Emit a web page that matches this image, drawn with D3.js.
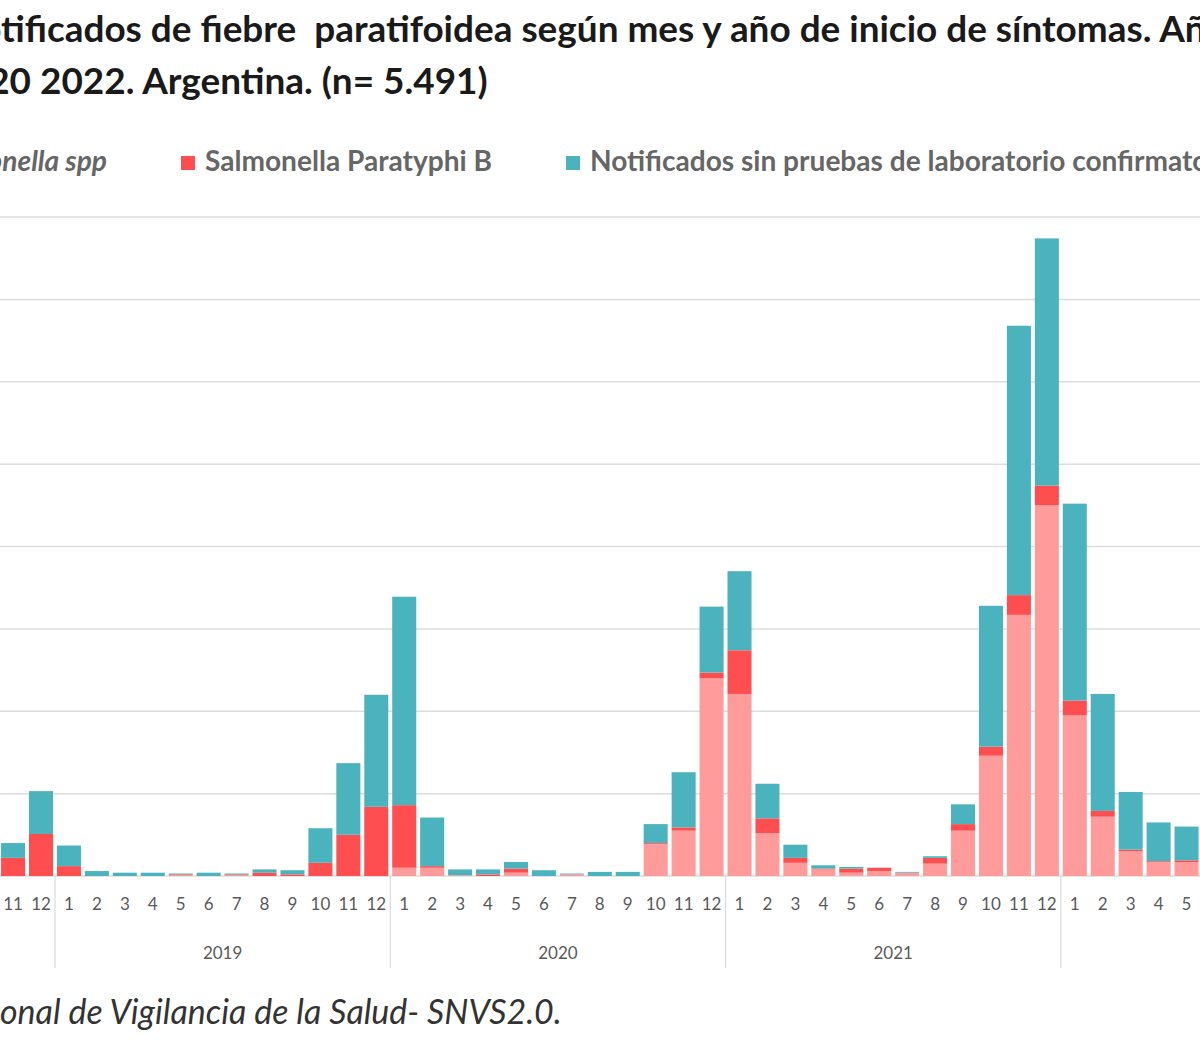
<!DOCTYPE html>
<html><head><meta charset="utf-8">
<script src="https://cdn.jsdelivr.net/npm/d3@7"></script>
<style>body{margin:0;background:#fff} svg{display:block} text{white-space:pre}</style>
</head><body><svg id="c" width="1200" height="1050"></svg>
<script>
// ---------- DATA ----------
const periods = [
 "2018-11","2018-12",
 "2019-01","2019-02","2019-03","2019-04","2019-05","2019-06","2019-07","2019-08","2019-09","2019-10","2019-11","2019-12",
 "2020-01","2020-02","2020-03","2020-04","2020-05","2020-06","2020-07","2020-08","2020-09","2020-10","2020-11","2020-12",
 "2021-01","2021-02","2021-03","2021-04","2021-05","2021-06","2021-07","2021-08","2021-09","2021-10","2021-11","2021-12",
 "2022-01","2022-02","2022-03","2022-04","2022-05","2022-06"
];
const salmonellaSpp = [
 0,0,
 0,0,0,0,1,0,1,0,0,0,0,0,
 10,10,1,0,4,0,2,0,0,39,55,240,
 221,52,16,8,4,6,4,15,55,146,317,450,
 195,72,30,17,17,15
];
const paratyphiB = [
 22,51,
 12,0,0,0,1,0,1,4,2,16,50,84,
 76,2,0,2,5,0,0,0,0,1,4,7,
 53,18,6,1,5,4,0,7,8,11,24,24,
 18,7,2,1,2,1
];
const sinLaboratorio = [
 18,52,
 25,6,4,4,1,4,1,4,5,42,87,136,
 253,59,7,6,8,7,1,5,5,23,67,80,
 96,42,16,4,2,0,1,2,24,171,327,300,
 239,142,70,47,41,6
];
const seriesKeys = ["spp","pb","sin"];
const seriesNames = ["Salmonella spp","Salmonella Paratyphi B","Notificados sin pruebas de laboratorio confirmatorias"];
const seriesColors = ["#ff9b9b","#fe4e50","#4bb3bd"];
const yTicks = [0,100,200,300,400,500,600,700,800];
const yearLabels = ["2019","2020","2021"];
const titleLine1 = "Gráfico 1. Casos notificados de fiebre  paratifoidea según mes y año de inicio de síntomas. Años 2018 a";
const titleLine2 = "SE 20 2022. Argentina. (n= 5.491)";
const sourceText = "Fuente: Sistema Nacional de Vigilancia de la Salud- SNVS2.0.";

// ---------- CHART ----------
const svg = d3.select("#c");
const FONT = "Lato, 'Open Sans', sans-serif";
const step = 27.94, x0 = -0.9;
const x = d3.scaleBand().domain(periods)
  .range([x0, x0 + step*periods.length]).paddingInner(0.14).paddingOuter(0.07);
const y = d3.scaleLinear().domain([0,800]).range([876,217]);

const rows = periods.map((p,i)=>({p, spp:salmonellaSpp[i], pb:paratyphiB[i], sin:sinLaboratorio[i]}));
const stacked = d3.stack().keys(seriesKeys)(rows);

// gridlines
svg.append("g").selectAll("line").data(yTicks).join("line")
  .attr("x1",0).attr("x2",1200).attr("y1",d=>y(d)).attr("y2",d=>y(d))
  .attr("stroke","#dcdcdc").attr("stroke-width",1.5);

// bars
svg.append("g").selectAll("g").data(stacked).join("g")
  .attr("fill",(d,i)=>seriesColors[i])
  .selectAll("rect").data(d=>d).join("rect")
  .attr("x",d=>x(d.data.p)).attr("width",x.bandwidth())
  .attr("y",d=>y(d[1])).attr("height",d=>Math.max(0,y(d[0])-y(d[1])));

// month axis
const xAxis = d3.axisBottom(x).tickSize(0).tickPadding(0)
  .tickFormat(p=>String(+p.split("-")[1]));
const ax = svg.append("g").attr("transform","translate(0,898)").call(xAxis);
ax.select(".domain").remove();
ax.selectAll("text").attr("font-family",FONT).attr("font-size",17).attr("fill","#595959")
  .attr("dy","0.71em");

// year separators
const gap = (x.step()-x.bandwidth())/2;
const yearStarts = periods.filter(p=>p.endsWith("-01"));
svg.append("g").selectAll("line").data(yearStarts).join("line")
  .attr("x1",p=>x(p)-gap).attr("x2",p=>x(p)-gap)
  .attr("y1",876).attr("y2",968).attr("stroke","#d9d9d9").attr("stroke-width",1.2);

// year labels
svg.append("g").selectAll("text").data(yearLabels).join("text")
  .attr("x",yr=>{const a=x(yr+"-01")-gap, b=x(yr+"-12")+x.bandwidth()+gap; return (a+b)/2;})
  .attr("y",959).attr("text-anchor","middle")
  .attr("font-family",FONT).attr("font-size",17).attr("fill","#595959").text(d=>d);

// helpers
function fitText(t, sub, targetW){
  const full = t.text(); const i = full.indexOf(sub);
  t.attr("font-size",100);
  const w = t.node().getSubStringLength(i, sub.length);
  const fs = 100*targetW/w; t.attr("font-size",fs);
  return {i, fs};
}
function placeSub(t, sub, xs){
  const full = t.text(); const i = full.indexOf(sub);
  const off = i>0 ? t.node().getSubStringLength(0,i) : 0;
  t.attr("x", xs-off);
}

// title
const t1 = svg.append("text").attr("y",42).attr("font-family",FONT).attr("font-weight","bold")
  .attr("xml:space","preserve").attr("fill","#1a1a1a").text(titleLine1);
const sub1 = "tificados de fiebre  paratifoidea según mes y año de inicio de síntomas.";
const fit1 = fitText(t1, sub1, 1151);
placeSub(t1, sub1, 1);
const t2 = svg.append("text").attr("y",94).attr("font-family",FONT).attr("font-weight","bold")
  .attr("fill","#1a1a1a").attr("font-size",fit1.fs).text(titleLine2);
placeSub(t2, "2022. Argentina. (n= 5.491)", 40);

// legend
const lgY = 163;
const lg = svg.append("g");
const lt2 = lg.append("text").attr("y",lgY+8).attr("font-family",FONT).attr("font-weight","bold")
  .attr("fill","#666").text(seriesNames[1]);
const fitL = fitText(lt2, seriesNames[1], 287);
lt2.attr("x",205);
lg.append("rect").attr("x",181).attr("y",lgY-7).attr("width",14).attr("height",14).attr("fill",seriesColors[1]);
lg.append("text").attr("y",lgY+8).attr("x",590).attr("font-family",FONT).attr("font-weight","bold")
  .attr("font-size",fitL.fs).attr("fill","#666").text(seriesNames[2]);
lg.append("rect").attr("x",566).attr("y",lgY-7).attr("width",14).attr("height",14).attr("fill",seriesColors[2]);
const lt1 = lg.append("text").attr("y",lgY+8).attr("x",107).attr("text-anchor","end").attr("font-family",FONT)
  .attr("font-weight","bold").attr("font-style","italic").attr("font-size",fitL.fs).attr("fill","#666").text(seriesNames[0]);
lg.append("rect").attr("y",lgY-7).attr("width",14).attr("height",14).attr("fill",seriesColors[0])
  .attr("x",107 - lt1.node().getComputedTextLength() - 24);

// source
const src = svg.append("text").attr("y",1024).attr("font-family",FONT).attr("font-style","italic")
  .attr("fill","#333").text(sourceText);
const subS = "onal de Vigilancia de la Salud- SNVS2.0.";
fitText(src, subS, 562);
placeSub(src, subS, 0);
</script>
</body></html>
